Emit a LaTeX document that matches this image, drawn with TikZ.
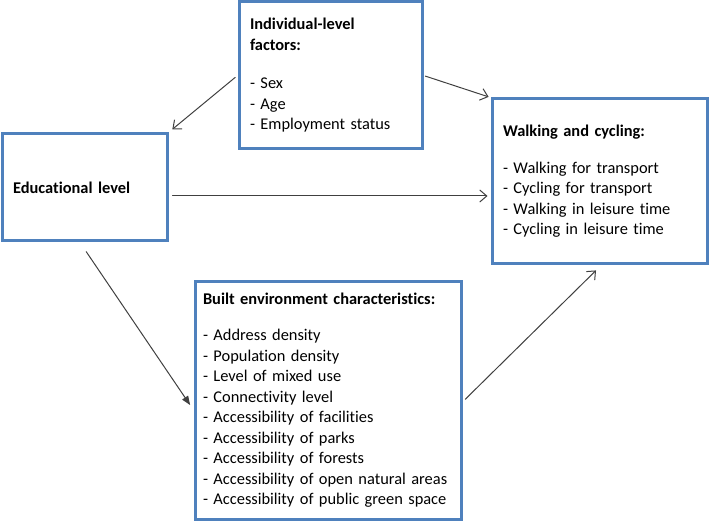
\documentclass[tikz,border=0pt]{standalone}
\usepackage{fontspec}
\setmainfont[Ligatures=CommonOff]{Carlito}
\usetikzlibrary{arrows.meta}
\definecolor{boxblue}{RGB}{79,129,189}
\definecolor{arrowgray}{RGB}{64,64,64}
\hyphenpenalty=10000

\begin{document}
\begin{tikzpicture}[line cap=round,line join=round,>={Straight Barb[length=7pt,width=12pt]},x=1pt,y=-1pt,
	box/.style={draw=boxblue,line width=3pt,line cap=butt,line join=miter,rectangle,inner xsep=11pt,inner ysep=0pt,align=left,font=\fontsize{16.4}{20.5}\selectfont},
	link/.style={->,draw=arrowgray,line width=1pt}]
		\useasboundingbox (0,0) rectangle (709,521);
		%boxes
		\node[box,text width=161pt,minimum height=147pt] (ind) at (330.5,75.5) {\textbf{Individual-level}\\ \textbf{factors:}\\[18pt] - Sex\\ - Age\\ - Employment status};
		\node[box,text width=143pt,minimum height=107pt] (edu) at (84.5,187.5) {\textbf{Educational level}};
		\node[box,text width=193pt,minimum height=165pt] (walk) at (599.5,181.5) {\textbf{Walking and cycling:}\\[16pt] - Walking for transport\\ - Cycling for transport\\ - Walking in leisure time\\ - Cycling in leisure time};
		\node[box,inner xsep=8pt,text width=250pt,minimum height=238pt] (built) at (328,400) {\textbf{Built environment characteristics:}\\[16pt] - Address density\\ - Population density\\ - Level of mixed use\\ - Connectivity level\\ - Accessibility of facilities\\ - Accessibility of parks\\ - Accessibility of forests\\ - Accessibility of open natural areas\\ - Accessibility of public green space};
		%arrows
		\draw[link,shorten <=3pt,shorten >=5pt] (ind.west) -- (edu.north east);
		\draw[link,shorten <=2pt,shorten >=2pt] (ind.east) -- (walk.north west);
		\draw[link,shorten <=4pt,shorten >=3pt] ([yshift=-8.5pt]edu.east) -- ([yshift=-8.5pt]edu.east -| walk.west);
		\draw[link,>={Triangle[length=9pt,width=7pt]},shorten <=11pt,shorten >=6pt] ([xshift=-4.5pt]edu.south) -- ([yshift=-10pt]built.west);
		\draw[link,shorten <=4pt,shorten >=7pt] ([yshift=-2pt]built.east) -- ([xshift=1.5pt]walk.south);
\end{tikzpicture}
\end{document}
